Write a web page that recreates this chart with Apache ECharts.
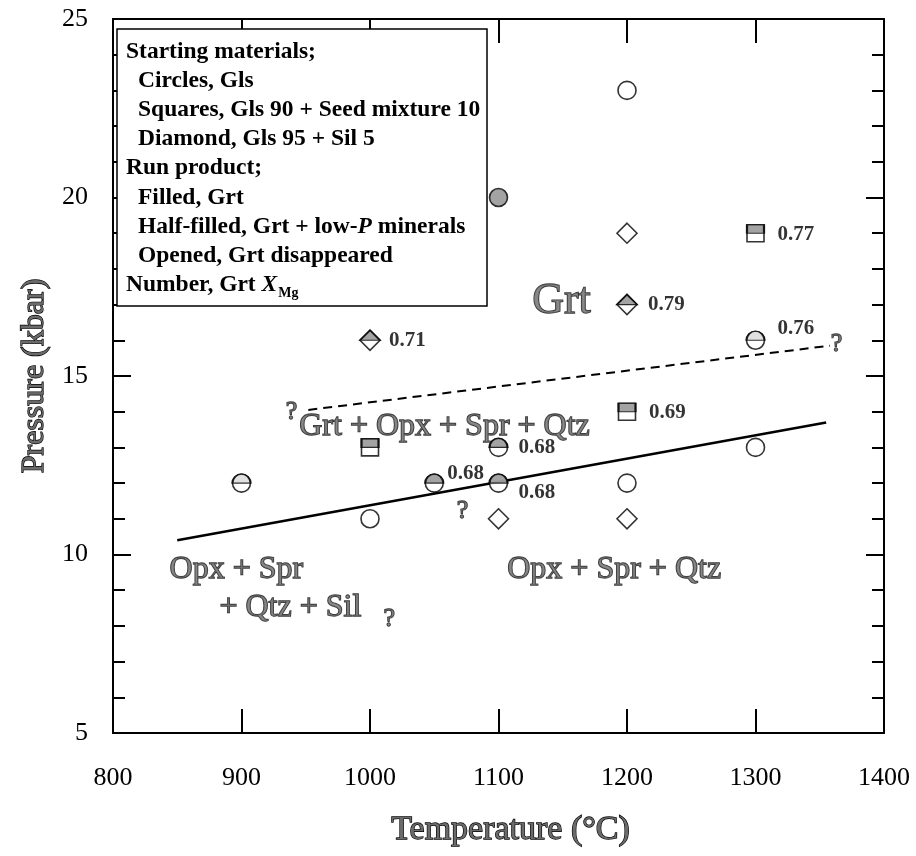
<!DOCTYPE html>
<html>
<head>
<meta charset="utf-8">
<script src="https://cdn.jsdelivr.net/npm/echarts@6/dist/echarts.min.js"></script>
<style>
html, body { margin: 0; padding: 0; background: #fff; }
#chart { width: 916px; height: 856px; }
</style>
</head>
<body>
<div id="chart"></div>
<script>
// runs, [T (°C), P (kbar)]
const circlesOpen = [[1200, 23], [1000, 11], [1200, 12], [1300, 13]];
const circlesFilled = [[1100, 20]];
const circlesHalf = [[1100, 13], [1050, 12], [1100, 12]];
const circlesHalfLight = [[900, 12], [1300, 16]];
const squaresHalf = [[1300, 19], [1200, 14], [1000, 13]];
const diamondsOpen = [[1200, 19], [1100, 11], [1200, 11]];
const diamondsHalf = [[1200, 17], [1000, 16]];

// Grt XMg written beside the runs
const xmgValues = [
  [1300, 19, '0.77'], [1200, 17, '0.79'], [1300, 16, '0.76'], [1000, 16, '0.71'],
  [1200, 14, '0.69'], [1100, 13, '0.68'], [1050, 12, '0.68'], [1100, 12, '0.68']
];

// reaction boundaries
const solidBoundary = [[850, 10.4], [1355, 13.7]];
const dashedBoundary = [[952, 14.05], [1358, 15.85]];

// phase fields and uncertain points
const fieldLabels = [
  ['Grt', 1149, 17.1],
  ['Grt + Opx + Spr + Qtz', 1058, 13.57],
  ['Opx + Spr', 896, 9.57],
  ['+ Qtz + Sil', 938, 8.5],
  ['Opx + Spr + Qtz', 1190, 9.57]
];
const queryMarks = [[939, 14.0], [1363, 15.9], [1072, 11.2], [1015, 8.2]];

const xTicks = [800, 900, 1000, 1100, 1200, 1300, 1400];
const yTicks = [5, 10, 15, 20, 25];

const legendLines = [
  ['Starting materials;', 0],
  ['Circles, Gls', 1],
  ['Squares, Gls 90 + Seed mixture 10', 1],
  ['Diamond, Gls 95 + Sil 5', 1],
  ['Run product;', 0],
  ['Filled, Grt', 1],
  ['Half-filled, Grt + low-{i|P} minerals', 1],
  ['Opened, Grt disappeared', 1],
  ['Number, Grt {i|X}', 0]
];

const serif = 'Liberation Serif';
const chart = echarts.init(document.getElementById('chart'));

// label offsets (px) for the XMg numbers, same order as xmgValues
const xmgOffsets = [[22, 1], [21, 0], [22, -12], [19, 0], [22, 1], [20, 0], [13, -10], [20, 9]];
const fieldSizes = [44, 32, 32, 32, 32];

const outline = { color: '#fff', borderColor: '#000', borderWidth: 1.6 };
const halfFill = { color: '#8c8c8c', borderColor: '#000', borderWidth: 1.6 };
const halfLight = { color: '#d8d8d8', borderColor: '#000', borderWidth: 1.6 };
const halfCircle = 'path://M0,10A10,10,0,0,1,20,10Z';
const halfDiamond = 'path://M0,10L10,0L20,10Z';

function marks(data, symbol, size, style, offset) {
  return {
    type: 'scatter', data: data, symbol: symbol, symbolSize: size,
    symbolOffset: offset || [0, 0], itemStyle: style, z: 5, silent: true
  };
}

// scanned, slightly hollow lettering
const hollowText = {
  color: '#6a6a6a', textBorderColor: '#000', textBorderWidth: 1.3, fontFamily: serif
};

// subscript position after "Number, Grt X"
const ctx = document.createElement('canvas').getContext('2d');
ctx.font = 'bold 23.5px "Liberation Serif"';
let subX = 126 + ctx.measureText('Number, Grt ').width;
ctx.font = 'italic bold 23.5px "Liberation Serif"';
subX += ctx.measureText('X').width + 1;

const legendFont = { fontSize: 23.5, fontFamily: serif, fontWeight: 'bold', fill: '#000' };

const xBase = {
  type: 'value', min: xTicks[0], max: xTicks[xTicks.length - 1], interval: 100,
  axisLine: { show: true, onZero: false, lineStyle: { color: '#000', width: 2 } },
  axisTick: { show: true, inside: true, length: 24, lineStyle: { color: '#000', width: 2 } },
  splitLine: { show: false }
};
const yBase = {
  type: 'value', min: yTicks[0], max: yTicks[yTicks.length - 1], interval: 5,
  axisLine: { show: true, onZero: false, lineStyle: { color: '#000', width: 2 } },
  axisTick: { show: true, inside: true, length: 18, lineStyle: { color: '#000', width: 2 } },
  minorTick: { show: true, splitNumber: 5, length: 12, lineStyle: { color: '#000', width: 2 } },
  splitLine: { show: false }
};

const option = {
  animation: false,
  grid: { left: 113, right: 32, top: 19, bottom: 123, outerBoundsMode: 'none' },
  xAxis: [
    Object.assign({}, xBase, {
      position: 'bottom',
      axisLabel: { margin: 32, fontSize: 26, fontFamily: serif, color: '#000', formatter: v => String(v) },
      name: 'Temperature (°C)', nameLocation: 'middle', nameGap: 80,
      nameTextStyle: Object.assign({ fontSize: 34, padding: [0, 0, 0, 24] }, hollowText)
    }),
    Object.assign({}, xBase, { position: 'top', axisLabel: { show: false } })
  ],
  yAxis: [
    Object.assign({}, yBase, {
      position: 'left',
      axisLabel: { margin: 25, fontSize: 26, fontFamily: serif, color: '#000', formatter: v => String(v) },
      name: 'Pressure (kbar)', nameLocation: 'middle', nameGap: 62,
      nameTextStyle: Object.assign({ fontSize: 32 }, hollowText)
    }),
    Object.assign({}, yBase, { position: 'right', axisLabel: { show: false } })
  ],
  series: [
    {
      type: 'line', data: solidBoundary, symbol: 'none', silent: true, z: 3,
      lineStyle: { color: '#000', width: 2.5 }
    },
    {
      type: 'line', data: dashedBoundary, symbol: 'none', silent: true, z: 3,
      lineStyle: { color: '#000', width: 2, type: [9, 6] }
    },
    marks(circlesOpen, 'circle', 18, outline),
    marks(circlesFilled, 'circle', 18, halfFill),
    marks(circlesHalf, 'circle', 18, outline),
    marks(circlesHalf, halfCircle, [18, 9], halfFill, [0, -4.5]),
    marks(circlesHalfLight, 'circle', 18, outline),
    marks(circlesHalfLight, halfCircle, [18, 9], halfLight, [0, -4.5]),
    marks(squaresHalf, 'rect', 17, outline),
    marks(squaresHalf, 'rect', [17, 8.5], halfFill, [0, -4.25]),
    marks(diamondsOpen, 'diamond', 20, outline),
    marks(diamondsHalf, 'diamond', 20, outline),
    marks(diamondsHalf, halfDiamond, [20, 10], halfFill, [0, -5]),
    {
      type: 'scatter', silent: true, z: 6, symbolSize: 1,
      itemStyle: { color: 'rgba(0,0,0,0)' },
      data: xmgValues.map((d, i) => ({
        name: d[2], value: [d[0], d[1]],
        label: { offset: xmgOffsets[i] }
      })),
      label: {
        show: true, position: 'inside', align: 'left', formatter: '{b}',
        fontSize: 21, fontWeight: 'bold', fontFamily: serif, color: '#000'
      }
    },
    {
      type: 'scatter', silent: true, z: 6, symbolSize: 1,
      itemStyle: { color: 'rgba(0,0,0,0)' },
      data: fieldLabels.map((d, i) => ({
        name: d[0], value: [d[1], d[2]],
        label: { fontSize: fieldSizes[i] }
      })),
      label: Object.assign({ show: true, position: 'inside', formatter: '{b}' }, hollowText)
    },
    {
      type: 'scatter', silent: true, z: 6, symbolSize: 1,
      itemStyle: { color: 'rgba(0,0,0,0)' },
      data: queryMarks.map(d => ({ name: '?', value: d })),
      label: Object.assign({ show: true, position: 'inside', formatter: '{b}', fontSize: 26 }, hollowText)
    }
  ],
  graphic: [
    {
      type: 'rect', z: 100,
      shape: { x: 117, y: 29, width: 370, height: 277 },
      style: { fill: '#fff', stroke: '#000', lineWidth: 1.5 }
    }
  ].concat(legendLines.map((ln, i) => ({
    type: 'text', z: 101,
    x: ln[1] ? 138 : 126, y: 52 + i * 29.1,
    style: Object.assign({
      text: ln[0], verticalAlign: 'middle',
      rich: { i: Object.assign({ fontStyle: 'italic' }, legendFont) }
    }, legendFont)
  }))).concat([
    {
      type: 'text', z: 101, x: subX, y: 52 + 8 * 29.1 + 9,
      style: { text: 'Mg', verticalAlign: 'middle', fontSize: 14, fontWeight: 'bold', fontFamily: serif, fill: '#000' }
    }
  ])
};

chart.setOption(option);
</script>
</body>
</html>
